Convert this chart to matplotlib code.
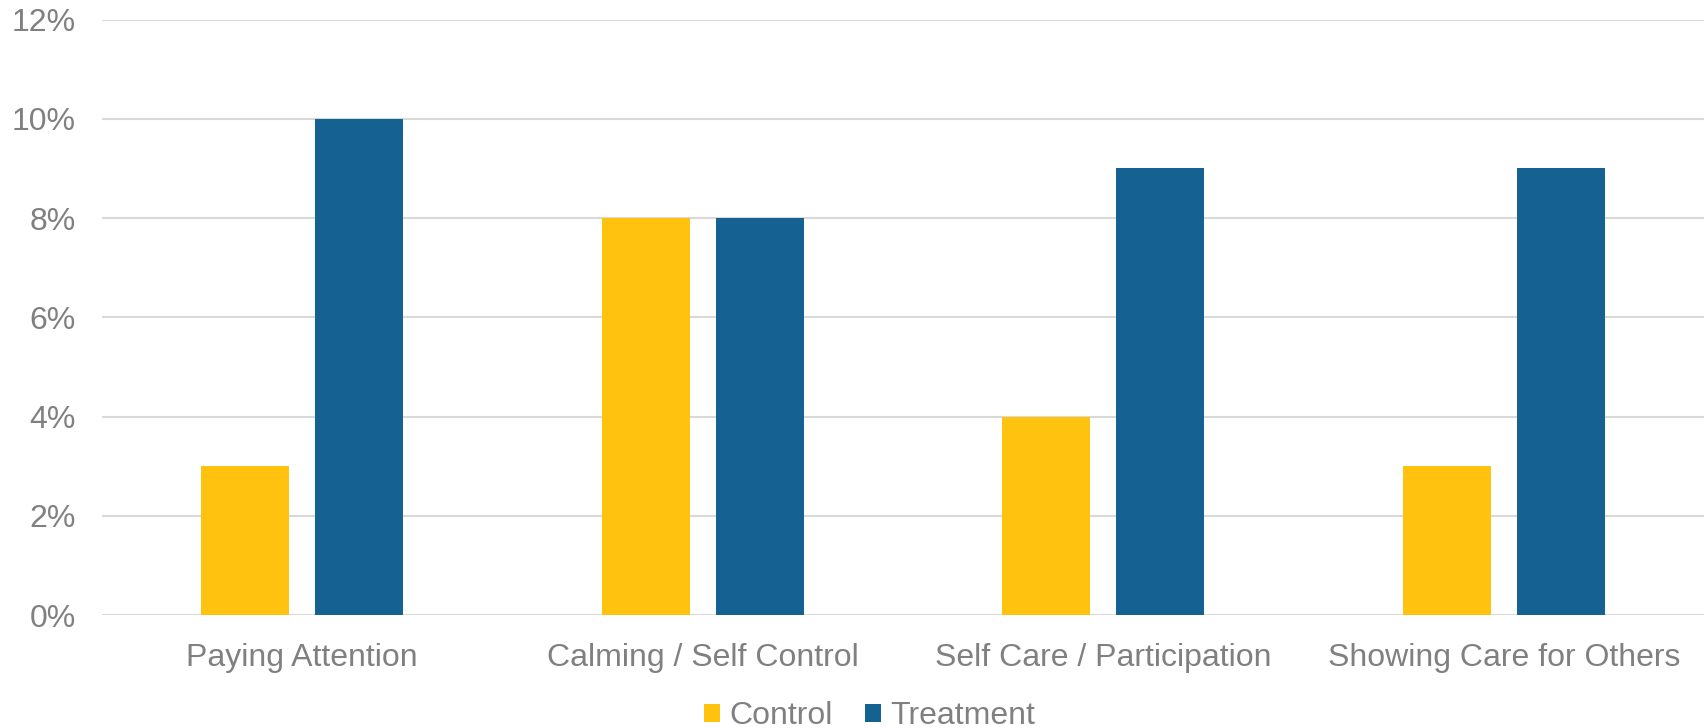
import matplotlib
matplotlib.use("Agg")
import matplotlib.pyplot as plt
import numpy as np
from matplotlib.ticker import FuncFormatter

categories = ["Paying Attention", "Calming / Self Control", "Self Care / Participation", "Showing Care for Others"]
control = [3, 8, 4, 3]
treatment = [10, 8, 9, 9]
series_names = ["Control", "Treatment"]
colors = ["#FFC20E", "#156192"]
yticks = [0, 2, 4, 6, 8, 10, 12]

plt.rcParams['font.family'] = ['Liberation Sans', 'DejaVu Sans']
gray = "#808080"

fig = plt.figure(figsize=(17.08, 7.28), dpi=100)
ax = fig.add_axes([0.0597, 0.1552, 0.938, 0.818])

x = np.arange(len(categories))
w = 0.22
off = 0.1425
ax.bar(x - off, control, w, color=colors[0], label=series_names[0], zorder=3)
ax.bar(x + off, treatment, w, color=colors[1], label=series_names[1], zorder=3)

ax.set_xlim(-0.5, len(categories) - 0.5)
ax.set_ylim(0, 12)
ax.set_yticks(yticks)
ax.yaxis.set_major_formatter(FuncFormatter(lambda v, p: f"{v:.0f}%"))
ax.set_xticks(x)
ax.set_xticklabels(categories)
ax.grid(axis='y', color="#D9D9D9", linewidth=1.5, zorder=0)
for s in ax.spines.values():
    s.set_visible(False)
ax.tick_params(axis='both', length=0, labelsize=23, labelcolor=gray)
ax.tick_params(axis='y', pad=19)
ax.tick_params(axis='x', pad=20)

leg = fig.legend(loc='center', bbox_to_anchor=(0.509, 0.016), ncol=2, frameon=False,
                 fontsize=23, handlelength=0.5, handleheight=0.5, handletextpad=0.3,
                 columnspacing=1.0, labelcolor=gray)

fig.savefig("out.png", dpi=100, facecolor="white")
